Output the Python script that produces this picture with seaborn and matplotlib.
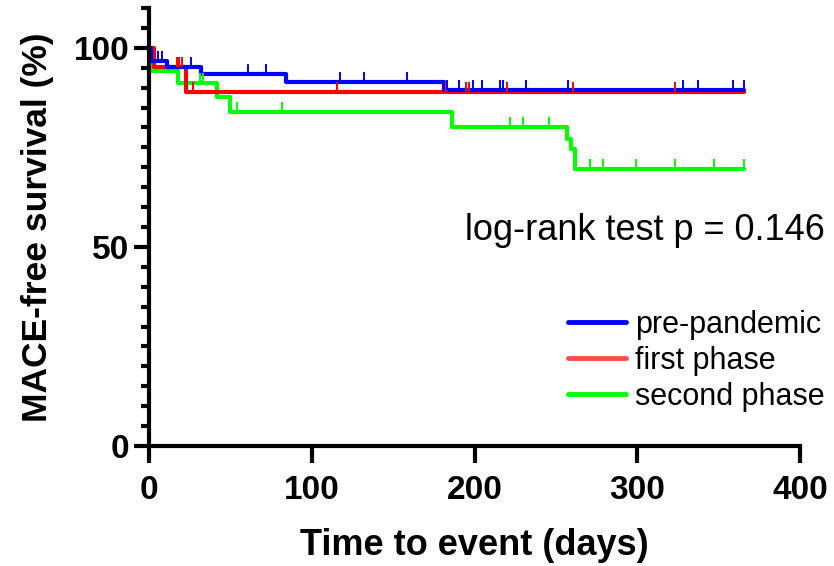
import numpy as np
import pandas as pd
import matplotlib
matplotlib.use("Agg")
import matplotlib.pyplot as plt
import seaborn as sns
from matplotlib.path import Path
from matplotlib.lines import Line2D
from matplotlib.ticker import FixedLocator

# ---------------- data ----------------
groups = ["pre-pandemic", "first phase", "second phase"]

pre_times = [0, 1, 11, 32, 84, 181, 365.3]
pre_surv = [100, 96.8, 95.1, 93.5, 91.4, 89.3, 89.3]
pre_cens = [5.7, 7.8, 25.8, 61, 72, 117.4, 132.3, 158.4, 183, 190.7, 199.3,
            204.5, 215.6, 217.8, 231.7, 257.7, 328.4, 337.6, 358.7, 365.3]

first_times = [0, 3, 23, 365.3]
first_surv = [100, 95.1, 88.8, 88.8]
first_cens = [17, 18.6, 20.3, 26.8, 115.4, 182.3, 194.8, 196.8, 219.8,
              260.8, 323.3]

second_times = [0, 0.5, 1, 18, 42, 50, 186, 257, 259, 262, 365.3]
second_surv = [100, 97.1, 94.3, 91.2, 87.6, 84.0, 80.0, 77.0, 74.7, 69.6, 69.6]
second_cens = [31.3, 33.4, 53.9, 81.6, 221.9, 230, 246, 271, 279.2, 299.2,
               323.3, 347.3, 365.3]

line_colors = {"pre-pandemic": "#0000ff", "first phase": "#ff0000",
               "second phase": "#00ff00"}
legend_colors = {"pre-pandemic": "#0000ff", "first phase": "#ff4d4d",
                 "second phase": "#00ff00"}

x_ticks = [0, 100, 200, 300, 400]
y_ticks = [0, 50, 100]

# ---------------- build tables ----------------
series = {
    "pre-pandemic": (pre_times, pre_surv, pre_cens),
    "first phase": (first_times, first_surv, first_cens),
    "second phase": (second_times, second_surv, second_cens),
}
rows, crow = [], []
for g, (t, s, c) in series.items():
    for ti, si in zip(t, s):
        rows.append({"time": ti, "surv": si, "group": g})
    t_arr = np.array(t)
    s_arr = np.array(s)
    for ci in c:
        idx = np.searchsorted(t_arr, ci, side="right") - 1
        crow.append({"time": ci, "surv": s_arr[idx], "group": g})
df = pd.DataFrame(rows)
dfc = pd.DataFrame(crow)

# ---------------- style ----------------
sns.set_style("ticks")
plt.rcParams["font.family"] = ["Liberation Sans", "DejaVu Sans"]
plt.rcParams["text.color"] = "black"
plt.rcParams["axes.labelcolor"] = "black"
plt.rcParams["xtick.color"] = "black"
plt.rcParams["ytick.color"] = "black"

fig = plt.figure(figsize=(8.34, 5.66), dpi=100)
ax = fig.add_axes([149 / 834, 1 - 446 / 566, (800 - 149) / 834, (446 - 8) / 566])

draw_order = ["second phase", "first phase", "pre-pandemic"]
sns.lineplot(data=df, x="time", y="surv", hue="group", hue_order=draw_order,
             palette=line_colors, drawstyle="steps-post", estimator=None,
             sort=False, linewidth=3, legend=False, ax=ax, clip_on=False)

tick_marker = Path([(0, 0), (0, 1)])
for g in draw_order:
    sub = dfc[dfc["group"] == g]
    ax.plot(sub["time"], sub["surv"], linestyle="none", marker=tick_marker,
            markersize=15, markeredgewidth=1.4, color=line_colors[g],
            clip_on=False, zorder=3)

ax.set_xlim(0, 400)
ax.set_ylim(0, 110)
ax.xaxis.set_major_locator(FixedLocator(x_ticks))
ax.yaxis.set_major_locator(FixedLocator(y_ticks))
ax.yaxis.set_minor_locator(FixedLocator([v for v in range(5, 111, 5)
                                         if v not in y_ticks]))

for side in ["top", "right"]:
    ax.spines[side].set_visible(False)
for side in ["left", "bottom"]:
    ax.spines[side].set_linewidth(3)
    ax.spines[side].set_color("black")

ax.tick_params(axis="x", which="major", length=12, width=3, pad=9,
               labelsize=24, color="black", labelcolor="black")
ax.tick_params(axis="y", which="major", length=11, width=3, pad=3,
               labelsize=24, color="black", labelcolor="black")
ax.tick_params(axis="y", which="minor", length=6, width=3, color="black")
for lab in ax.get_xticklabels() + ax.get_yticklabels():
    lab.set_fontweight("bold")

ax.set_xlabel("Time to event (days)", fontsize=26, fontweight="bold",
              labelpad=16, color="black")
ax.set_ylabel("MACE-free survival (%)", fontsize=25.5, fontweight="bold",
              labelpad=14, color="black")

handles = [Line2D([0], [0], color=legend_colors[g], linewidth=3.5)
           for g in groups]
leg = ax.legend(handles, groups, loc="center left",
                bbox_to_anchor=(568 / 834, 1 - 361 / 566),
                bbox_transform=fig.transFigure, frameon=False, fontsize=22,
                handlelength=1.9, handletextpad=0.3, labelspacing=0.2,
                borderpad=0, borderaxespad=0)
for t in leg.get_texts():
    t.set_color("black")

fig.text(825 / 834, 1 - 230 / 566, "log-rank test p = 0.146",
         ha="right", va="center", fontsize=26, color="black")

fig.savefig("out.png", dpi=100)
